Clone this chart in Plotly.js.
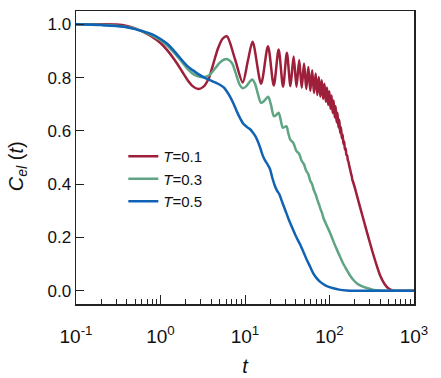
<!DOCTYPE html>
<html>
<head>
<meta charset="utf-8">
<script src="https://cdn.plot.ly/plotly-3.0.1.min.js"></script>
<style>
html,body{margin:0;padding:0;background:#fff;}
#chart{width:441px;height:378px;}
</style>
</head>
<body>
<div id="chart"></div>
<script>
// ---- Data ----
var seriesNames = ["T=0.1", "T=0.3", "T=0.5"];
var legendLabels = ["<i>T</i>=0.1", "<i>T</i>=0.3", "<i>T</i>=0.5"];

var tRed = [0.1, 0.2, 0.3, 0.4, 0.5, 0.6, 0.8, 1.0, 1.2, 1.5, 1.8, 2.1, 2.4, 2.8, 3.2, 3.7, 4.2, 4.8, 5.4,
  6.1, 7.6, 9.4, 10.8, 12.3, 15.5, 18.7, 21.9, 25.0, 28.2, 31.3, 34.5, 37.6, 40.7, 43.8, 46.9,
  50.0, 53.1, 56.2, 59.3, 62.4, 65.5, 68.6, 71.7, 74.8, 77.9, 81.0, 84.1, 87.2, 90.3, 93.4, 96.5,
  99.6, 102.7, 105.8, 108.9, 112.0, 115.1, 118.2, 121.3, 124.4, 127.5, 130.6, 133.7, 136.8, 139.9,
  143.0, 146.1, 149.2, 152.3, 155.4, 158.5, 161.6, 164.7, 167.8, 170.9, 174.0, 177.1, 180.2, 183.3,
  186.4, 189.5, 200, 220, 250, 280, 320, 360, 400, 450, 500, 560, 650, 800, 1000];
var cRed = [1.0, 1.0, 0.999, 0.994, 0.985, 0.974, 0.953, 0.930, 0.903, 0.862, 0.823, 0.790, 0.768, 0.757, 0.765, 0.795, 0.850, 0.910, 0.945,
  0.955, 0.870, 0.782, 0.862, 0.935, 0.777, 0.918, 0.770, 0.905, 0.766, 0.893, 0.768, 0.879, 0.766, 0.866, 0.762,
  0.853, 0.757, 0.840, 0.750, 0.828, 0.742, 0.815, 0.735, 0.802, 0.728, 0.790, 0.720, 0.777, 0.709, 0.763, 0.697,
  0.749, 0.683, 0.733, 0.667, 0.714, 0.650, 0.692, 0.632, 0.668, 0.613, 0.642, 0.592, 0.614, 0.572,
  0.586, 0.551, 0.560, 0.530, 0.534, 0.510, 0.508, 0.490, 0.484, 0.470, 0.460, 0.450, 0.438, 0.430,
  0.416, 0.410, 0.385, 0.336, 0.272, 0.215, 0.150, 0.097, 0.055, 0.024, 0.008, 0.001, 0.0, 0.0, 0.0];

var tGreen = [0.1, 0.2, 0.3, 0.4, 0.5, 0.6, 0.8, 1.0, 1.2, 1.5, 1.8, 2.1, 2.5, 2.9, 3.3, 3.8, 4.4, 5.0, 5.6,
  6.2, 7.0, 7.8, 8.6, 9.4, 10.4, 11.4, 12.2, 13.2, 14.3, 15.5, 16.8, 18.8, 20.2, 22.0, 23.5, 25.0, 26.5,
  28.0, 29.5, 31.0, 32.5, 34.3, 37.3, 40.5, 43.5, 46.8, 49.8, 53.0, 56.0, 59.2, 62.2, 65.5, 68.5,
  72.0, 75.0, 78.5, 81.5, 85, 92.6, 100, 111, 120, 133, 146, 160, 175, 192, 210, 230, 276, 332, 400, 500, 1000];
var cGreen = [1.0, 0.998, 0.995, 0.990, 0.984, 0.975, 0.958, 0.940, 0.920, 0.888, 0.858, 0.832, 0.811, 0.803, 0.802, 0.810, 0.833, 0.855, 0.867,
  0.869, 0.855, 0.815, 0.775, 0.760, 0.768, 0.785, 0.793, 0.775, 0.735, 0.705, 0.712, 0.728, 0.700, 0.655, 0.660, 0.668, 0.640,
  0.612, 0.615, 0.617, 0.592, 0.567, 0.555, 0.525, 0.515, 0.488, 0.475, 0.450, 0.438, 0.413, 0.400, 0.376, 0.362,
  0.340, 0.325, 0.305, 0.292, 0.272, 0.245, 0.222, 0.186, 0.160, 0.128, 0.100, 0.078, 0.057, 0.040, 0.028, 0.020, 0.010, 0.003, 0.0005, 0.0, 0.0];

var tBlue = [0.1, 0.2, 0.3, 0.4, 0.5, 0.6, 0.8, 1.0, 1.2, 1.5, 1.8, 2.1, 2.4, 2.8, 3.3, 3.9, 4.5, 5.1, 5.6,
  6.1, 6.7, 7.3, 8.3, 9.5, 10.5, 11.5, 12.3, 13.1, 14.0, 15.0, 16.1, 17.2, 18.5, 19.7, 21, 22.5, 24,
  25.5, 27, 29.9, 32.5, 35.8, 40, 44.8, 50, 54, 59, 64.3, 70, 77, 85, 93, 111, 130, 160, 200, 1000];
var cBlue = [1.0, 0.997, 0.994, 0.989, 0.982, 0.975, 0.962, 0.945, 0.927, 0.895, 0.865, 0.842, 0.828, 0.813, 0.800, 0.790, 0.781, 0.772, 0.763,
  0.748, 0.727, 0.703, 0.662, 0.628, 0.615, 0.606, 0.595, 0.583, 0.565, 0.540, 0.510, 0.490, 0.474, 0.458, 0.425, 0.395, 0.375,
  0.362, 0.340, 0.303, 0.272, 0.240, 0.205, 0.174, 0.140, 0.115, 0.090, 0.065, 0.048, 0.034, 0.024, 0.017, 0.009, 0.004, 0.001, 0.0, 0.0];

var xTickVals = [0.1, 1, 10, 100, 1000];
var xTickText = ["10<sup>-1</sup>", "10<sup>0</sup>", "10<sup>1</sup>", "10<sup>2</sup>", "10<sup>3</sup>"];
var yTickVals = [0.0, 0.2, 0.4, 0.6, 0.8, 1.0];

// ---- Styling ----
var colors = ["#9e1f3a", "#5fa584", "#0f62b4"];
var minorVals = [];
[0.1, 1, 10, 100].forEach(function (d) { for (var k = 2; k <= 9; k++) minorVals.push(d * k); });

function trace(x, y, i) {
  return {
    x: x, y: y, type: "scatter", mode: "lines", name: legendLabels[i],
    line: { color: colors[i], width: 2.5, shape: "spline", smoothing: 0.8 }
  };
}

var data = [trace(tRed, cRed, 0), trace(tGreen, cGreen, 1), trace(tBlue, cBlue, 2)];

var fontFam = "Arial, 'Liberation Sans', sans-serif";
var layout = {
  width: 441, height: 378,
  margin: { l: 76, r: 27, t: 11, b: 74 },
  paper_bgcolor: "#fff", plot_bgcolor: "#fff",
  font: { family: fontFam, color: "#111" },
  showlegend: true,
  legend: {
    x: 0.14, y: 0.56, xanchor: "left", yanchor: "top",
    bgcolor: "rgba(0,0,0,0)", borderwidth: 0,
    font: { size: 15, family: fontFam, color: "#111" },
    tracegroupgap: 0
  },
  xaxis: {
    type: "log", range: [-1, 3],
    tickmode: "array", tickvals: xTickVals, ticktext: xTickText,
    ticks: "inside", ticklen: 9, tickwidth: 1, tickcolor: "#222",
    minor: { tickvals: minorVals, ticks: "inside", ticklen: 5, tickwidth: 1, tickcolor: "#222", showgrid: false },
    showline: true, linecolor: "#222", linewidth: 1.5, mirror: true,
    showgrid: false, zeroline: false,
    tickfont: { size: 19, family: fontFam, color: "#111" },
    ticklabelstandoff: 15,
    title: { text: "<i>t</i>", font: { size: 20, family: fontFam, color: "#111" }, standoff: 12 }
  },
  yaxis: {
    range: [-0.05, 1.05],
    tickmode: "array", tickvals: yTickVals, tickformat: ".1f",
    ticks: "inside", ticklen: 8, tickwidth: 1, tickcolor: "#222",
    showline: true, linecolor: "#222", linewidth: 1.5, mirror: true,
    showgrid: false, zeroline: false,
    tickfont: { size: 17, family: fontFam, color: "#111" }
  },
  annotations: [{
    text: "<i>C</i><sub><i>el</i></sub> (<i>t</i>)",
    xref: "paper", yref: "paper", x: -0.175, y: 0.47,
    xanchor: "center", yanchor: "middle", textangle: -90, showarrow: false,
    font: { size: 20, family: fontFam, color: "#111" }
  }]
};

Plotly.newPlot("chart", data, layout, { displayModeBar: false, staticPlot: true });
</script>
</body>
</html>
